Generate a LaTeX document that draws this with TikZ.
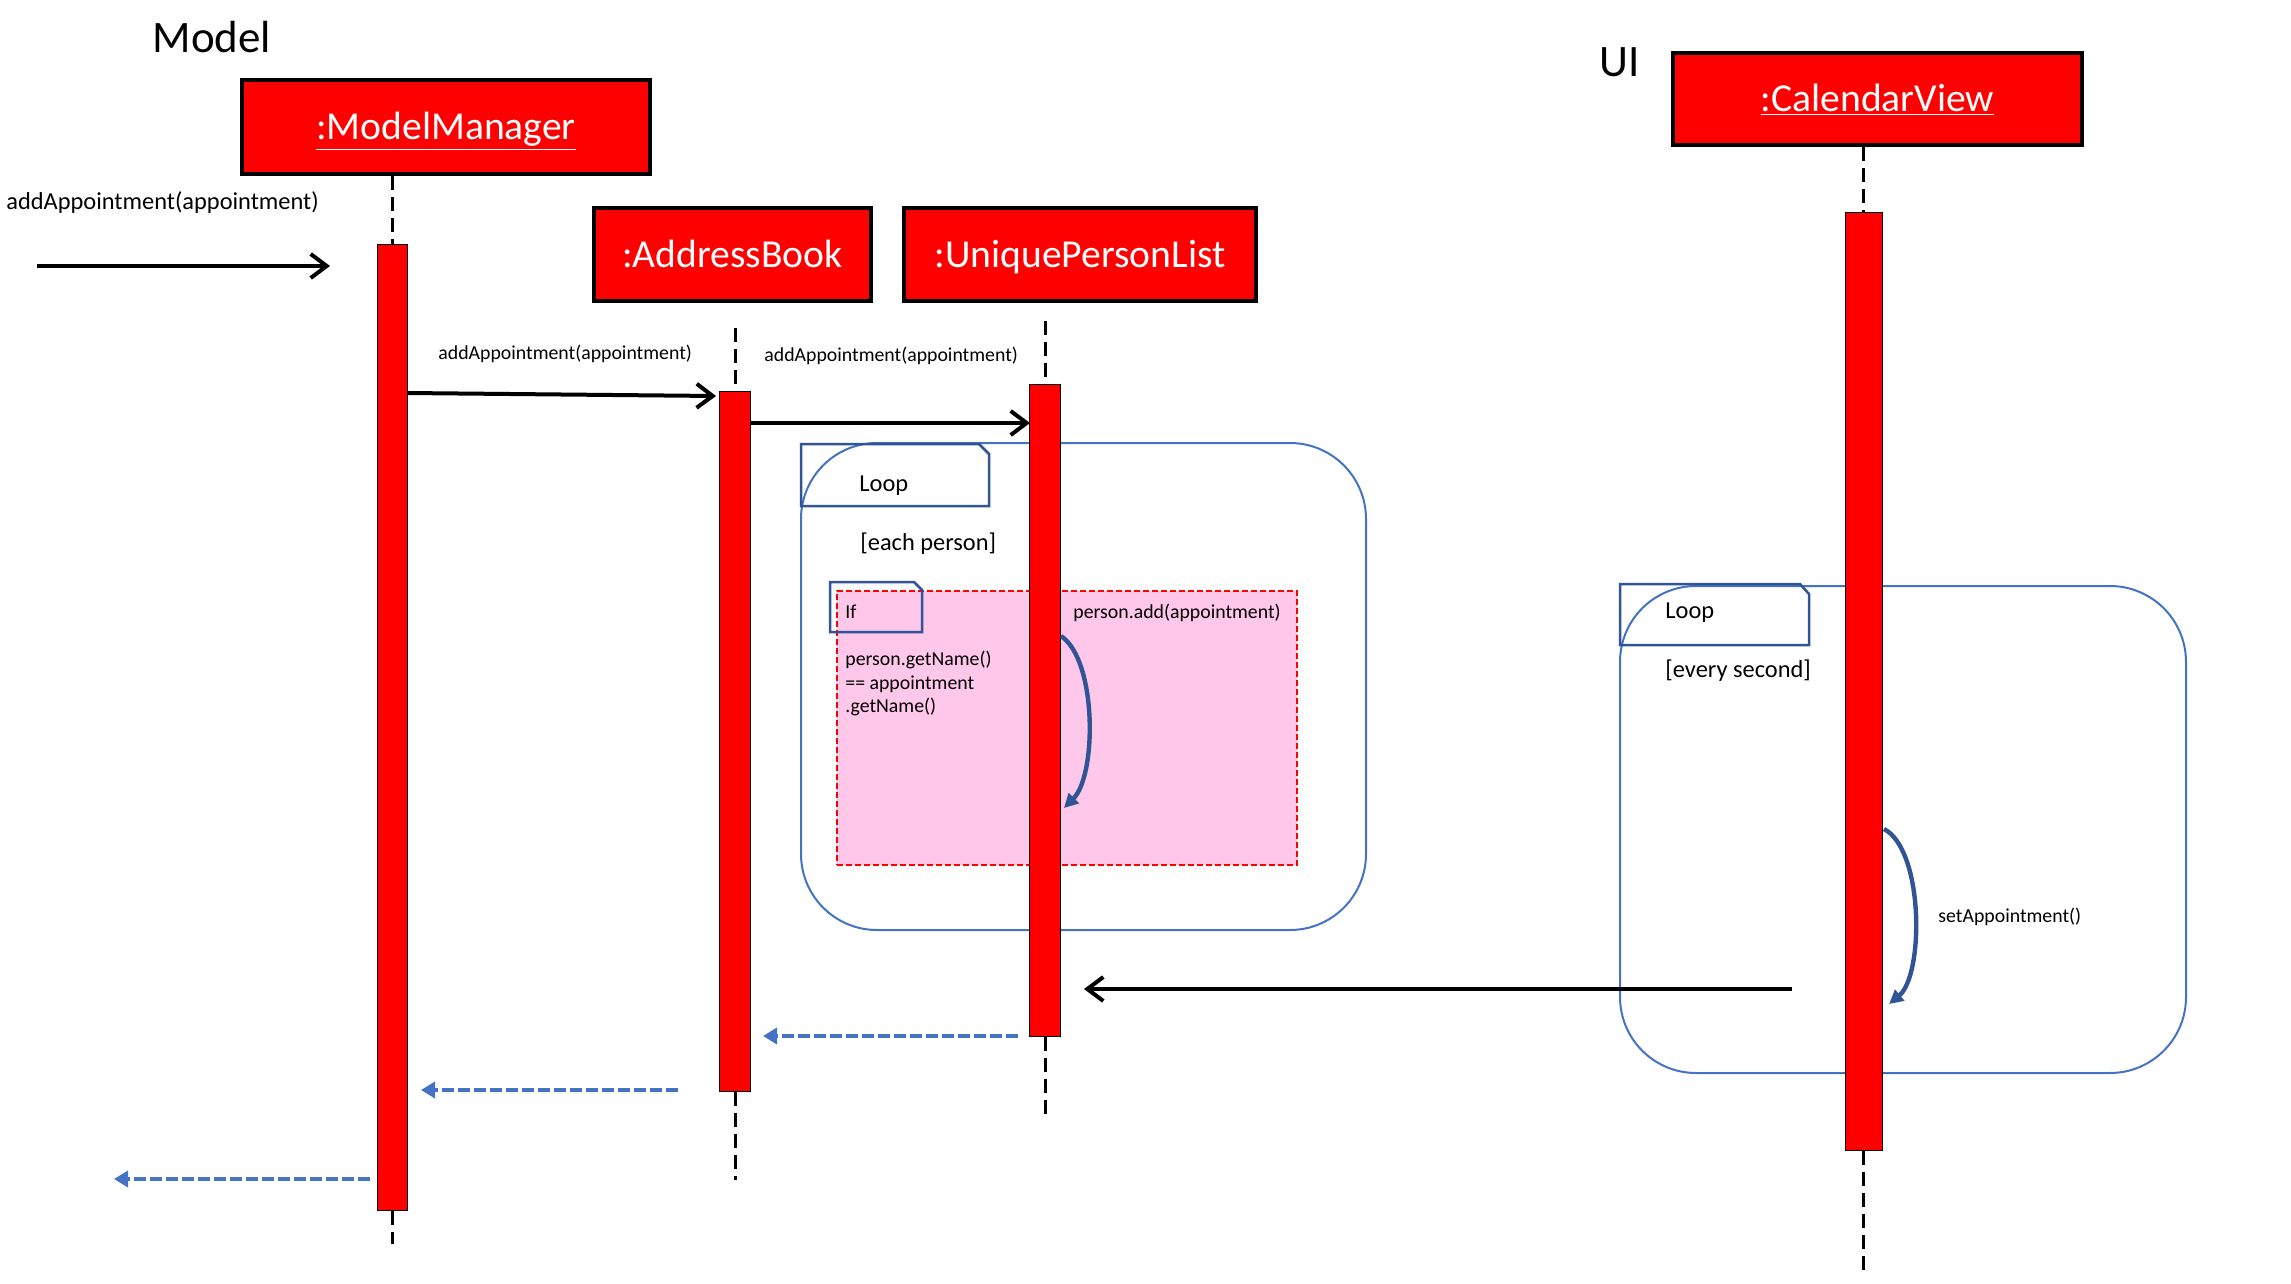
\documentclass[tikz,border=0pt]{standalone}
\usepackage{fontspec}
\setmainfont{Carlito}
\usetikzlibrary{arrows.meta}
\definecolor{lblue}{HTML}{4472C4}
\definecolor{dblue}{HTML}{2F5597}
\definecolor{pinkfill}{HTML}{FFC7E9}
\begin{document}
\begin{tikzpicture}[x=0.5pt,y=-0.5pt,
  obj/.style={draw=black, line width=2pt, fill=red, text=white, inner sep=0pt,
    font=\fontsize{19.8}{23}\selectfont, text height=12.7pt, text depth=0pt},
  actbar/.style={draw=black, line width=0.5pt, fill=red, inner sep=0pt},
  lifeline/.style={black, line width=1.5pt, dash pattern=on 7pt off 3.5pt},
  msg/.style={black, line width=2pt, -{Straight Barb[length=8pt,width=12pt]}},
  ret/.style={lblue, line width=2pt, dash pattern=on 6pt off 2pt, -{Triangle[length=7pt,width=8pt]}},
  lbl/.style={anchor=mid west, inner sep=0pt},
  small/.style={font=\fontsize{9.9}{12}\selectfont},
  big/.style={font=\fontsize{12.2}{14}\selectfont},
  hdr/.style={font=\fontsize{22.5}{26}\selectfont, anchor=mid, inner sep=0pt},
  loopbox/.style={draw=lblue, line width=1pt, rounded corners=38pt, inner sep=0pt},
  tabline/.style={draw=dblue, line width=1.25pt},
  ifbox/.style={draw=red, fill=pinkfill, line width=1pt, dash pattern=on 3pt off 1.5pt, inner sep=0pt},
  selfcall/.style={dblue, line width=2.2pt, -{Triangle[length=7pt,width=7pt]}}
]
\useasboundingbox (0,0) rectangle (2291,1284);

% headings
\node[hdr] (modelhdr) at (212,48) {Model};
\node[hdr] (uihdr) at (1620,72) {UI};

% object boxes
\node[obj, minimum width=204pt, minimum height=47pt] (mm) at (446,127) {\underline{:ModelManager}};
\node[obj, minimum width=138.5pt, minimum height=46.5pt] (ab) at (732.5,254.5) {:AddressBook};
\node[obj, minimum width=176pt, minimum height=46.5pt] (upl) at (1080,254.5) {:UniquePersonList};
\node[obj, minimum width=204.5pt, minimum height=46pt] (cv) at (1877.5,99) {\underline{:CalendarView}};

% loop frames (behind bars)
\node[loopbox, minimum width=282.5pt, minimum height=243.5pt] (loop1) at (1083.5,686.5) {};
\draw[tabline] (801,506) -- (801,444) -- (979,444) -- (989,454) -- (989,506) -- cycle;
\node[lbl, big] (loop1lbl) at (859,487) {Loop};
\node[lbl, big] (loop1cond) at (860,546) {[each person]};

\node[ifbox, minimum width=230pt, minimum height=137pt] (ifb) at (1067,728) {};
\draw[tabline] (830,632) -- (830,582) -- (914,582) -- (922,590) -- (922,632) -- cycle;
\node[lbl, small] (iflbl) at (845,614) {If};
\node[lbl, small] (cond1) at (845,661) {person.getName()};
\node[lbl, small] (cond2) at (845,685) {== appointment};
\node[lbl, small] (cond3) at (845,708) {.getName()};
\node[lbl, small] (addlbl) at (1073,614) {person.add(appointment)};

\node[loopbox, minimum width=283pt, minimum height=243.5pt] (loop2) at (1903,829.5) {};
\draw[tabline] (1620,645) -- (1620,584) -- (1800,584) -- (1809,594) -- (1809,645) -- cycle;
\node[lbl, big] (loop2lbl) at (1665,614) {Loop};
\node[lbl, big] (loop2cond) at (1665,673) {[every second]};

% activation bars
\node[actbar, minimum width=15pt, minimum height=483pt] (mmbar) at (392,727) {};
\node[actbar, minimum width=15.5pt, minimum height=350pt] (abbar) at (735,741) {};
\node[actbar, minimum width=15.5pt, minimum height=326pt] (uplbar) at (1045,710) {};
\node[actbar, minimum width=18.5pt, minimum height=469pt] (cvbar) at (1863.5,681) {};

% lifelines
\coordinate (abtop) at (735,328);
\coordinate (upltop) at (1045,321);
\coordinate (mmend) at (392,1244);
\coordinate (abend) at (735,1180);
\coordinate (uplend) at (1045,1114);
\coordinate (cvend) at (1863.5,1276);
\draw[lifeline] (mmbar.north |- mm.south) -- (mmbar.north);
\draw[lifeline] (abtop) -- (abbar.north);
\draw[lifeline] (upltop) -- (uplbar.north);
\draw[lifeline] (cvbar.north |- cv.south) -- (cvbar.north);
\draw[lifeline] (mmbar.south) -- (mmend);
\draw[lifeline] (abbar.south) -- (abend);
\draw[lifeline] (uplbar.south) -- (uplend);
\draw[lifeline] (cvbar.south) -- (cvend);

% messages
\coordinate (in0) at (37,266);
\coordinate (in1) at (330,266);
\draw[msg] (in0) -- (in1);
\node[lbl, big] (inlbl) at (6,205) {addAppointment(appointment)};

\coordinate (m1a) at (407,393);
\coordinate (m1b) at (716,396);
\draw[msg] (m1a) -- (m1b);
\node[lbl, small] (m1lbl) at (438,355) {addAppointment(appointment)};

\coordinate (m2a) at (750,423);
\coordinate (m2b) at (1030,423);
\draw[msg] (m2a) -- (m2b);
\node[lbl, small] (m2lbl) at (764,357) {addAppointment(appointment)};

\coordinate (m3a) at (1792,989);
\coordinate (m3b) at (1084,989);
\draw[msg] (m3a) -- (m3b);

% self calls
\draw[selfcall] (1061,636) .. controls (1097,660) and (1097,775) .. (1064,808);
\draw[selfcall] (1884,829) .. controls (1924,850) and (1924,975) .. (1889,1004);
\node[lbl, small] (setlbl) at (1938,918) {setAppointment()};

% returns
\coordinate (r1a) at (1018,1036);
\coordinate (r1b) at (763,1036);
\draw[ret] (r1a) -- (r1b);
\coordinate (r2a) at (678,1090);
\coordinate (r2b) at (421,1090);
\draw[ret] (r2a) -- (r2b);
\coordinate (r3a) at (370,1179);
\coordinate (r3b) at (114,1179);
\draw[ret] (r3a) -- (r3b);
\end{tikzpicture}
\end{document}
